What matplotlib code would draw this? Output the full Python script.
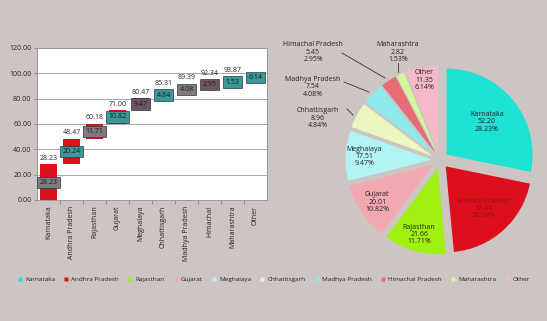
import numpy as np
import matplotlib
matplotlib.use("Agg")
import matplotlib.pyplot as plt
from matplotlib.lines import Line2D

plt.rcParams['font.family'] = ['Open Sans', 'DejaVu Sans']

# installed capacity by state
states = ["Karnataka", "Andhra Pradesh", "Rajasthan", "Gujarat", "Meghalaya",
          "Chhattisgarh", "Madhya Pradesh", "Himachal Pradesh", "Maharashtra", "Other"]
tick_names = ["Karnataka", "Andhra Pradesh", "Rajasthan", "Gujarat", "Meghalaya",
              "Chhattisgarh", "Madhya Pradesh", "Himachal", "Maharashtra", "Other"]
capacity = [52.20, 37.44, 21.66, 20.01, 17.51, 8.96, 7.54, 5.45, 2.82, 11.35]
share = [28.23, 20.24, 11.71, 10.82, 9.47, 4.84, 4.08, 2.95, 1.53, 6.14]

bg = "#cdc5c3"
pie_colors = ["#1ee2d4", "#de0f1d", "#a0f011", "#f3a8b0", "#b2f3f3",
              "#ebf7bf", "#8fe8ea", "#e66d77", "#d3f897", "#f6b9c8"]
box_colors = ["#827880", "#3a9898", "#827880", "#3a9898", "#6e5563",
              "#3a9898", "#827880", "#6e5563", "#3a9898", "#3a9898"]

fig = plt.figure(figsize=(5.47, 3.21), dpi=100, facecolor=bg)

# ---- waterfall of cumulative share ----
ax = fig.add_axes([37 / 547, 1 - 200 / 321, 230 / 547, 152 / 321])
ax.set_facecolor("white")
x = np.arange(len(share))
top = np.cumsum(share)
bottom = top - np.array(share)
mid = bottom + np.array(share) / 2
ax.bar(x, share, bottom=bottom, width=0.74, color="#dc0f1c", zorder=2)
for i in range(len(share)):
    if i < len(share) - 1:
        # running total sits above the bar or its value box, whichever is higher
        ax.text(x[i], max(top[i], mid[i] + 4.5) + 2.0, f"{top[i]:.2f}", ha="center",
                va="bottom", fontsize=5, color="#222222", zorder=4)
    ax.text(x[i], mid[i], f"{share[i]:.2f}", ha="center", va="center",
            fontsize=5, color="#1a1a1a", zorder=5,
            bbox=dict(boxstyle="square,pad=0.3", fc=box_colors[i], ec="#2a3a3a", lw=0.5))

ax.set_xlim(-0.5, len(share) - 0.5)
ax.set_ylim(0, 120)
ax.set_yticks(np.arange(0, 121, 20))
ax.set_yticklabels([f"{v:.2f}" for v in np.arange(0, 121, 20)], fontsize=5, color="#222222")
ax.set_xticks(x)
ax.set_xticklabels(tick_names, rotation=90, fontsize=5, color="#222222")
ax.set_xticks(np.arange(0.5, len(share) - 0.5), minor=True)
ax.tick_params(axis="x", which="major", length=0, pad=4)
ax.tick_params(axis="x", which="minor", length=3, color="#888888")
ax.tick_params(axis="y", length=2, color="#888888", pad=2)
ax.grid(axis="y", color="#a8a8a8", lw=0.7, zorder=0)
ax.set_axisbelow(True)
for s in ax.spines.values():
    s.set_color("#999999")
    s.set_linewidth(0.7)

# ---- pie of installed capacity ----
pax = fig.add_axes([330 / 547, 1 - 270 / 321, 220 / 547, 220 / 321])
pax.set_facecolor("none")
explode = [0.085] * len(capacity)
wedges, _ = pax.pie(capacity, colors=pie_colors, startangle=90, counterclock=False,
                    radius=0.86, explode=explode, wedgeprops=dict(linewidth=0))
pax.set_xlim(-1.1, 1.1)
pax.set_ylim(-1.1, 1.1)
pax.set_aspect("equal")
pax.axis("off")

inside_r = [0.52, 0.57, 0.69, 0.67, 0.67, None, None, None, None, 0.73]
outside_pos = {5: (-1.22, 0.42), 6: (-1.27, 0.73), 7: (-1.27, 1.08), 8: (-0.42, 1.08)}
leader = {5: ((-0.93, 0.51), (-0.87, 0.45)), 6: ((-0.96, 0.78), (-0.71, 0.68)),
          7: ((-0.98, 1.07), (-0.55, 0.82)), 8: ((-0.42, 0.97), (-0.42, 0.88))}
for i, w in enumerate(wedges):
    label = f"{states[i]}\n{capacity[i]:.2f}\n{share[i]:.2f}%"
    tcol = "#8a1620" if i == 1 else "#222222"
    if inside_r[i] is not None:
        ang = np.deg2rad((w.theta1 + w.theta2) / 2)
        cx, cy = w.center
        tx, ty = cx + inside_r[i] * np.cos(ang), cy + inside_r[i] * np.sin(ang)
    else:
        tx, ty = outside_pos[i]
        (x0, y0), (x1, y1) = leader[i]
        pax.add_line(Line2D([x0, x1], [y0, y1], color="#333333", lw=0.6))
    pax.text(tx, ty, label, ha="center", va="center", fontsize=5,
             color=tcol, linespacing=1.05)

# ---- shared legend ----
handles = [Line2D([], [], marker="s", ls="", markersize=3.2, markerfacecolor=c,
                  markeredgecolor="none") for c in pie_colors]
fig.legend(handles, states, loc="center", bbox_to_anchor=(0.5, 1 - 279 / 321), ncol=10,
           frameon=False, fontsize=4.6, handlelength=0.8, handletextpad=0.4,
           columnspacing=1.35, labelcolor="#222222")

fig.savefig("out.png", dpi=100, facecolor=bg)
